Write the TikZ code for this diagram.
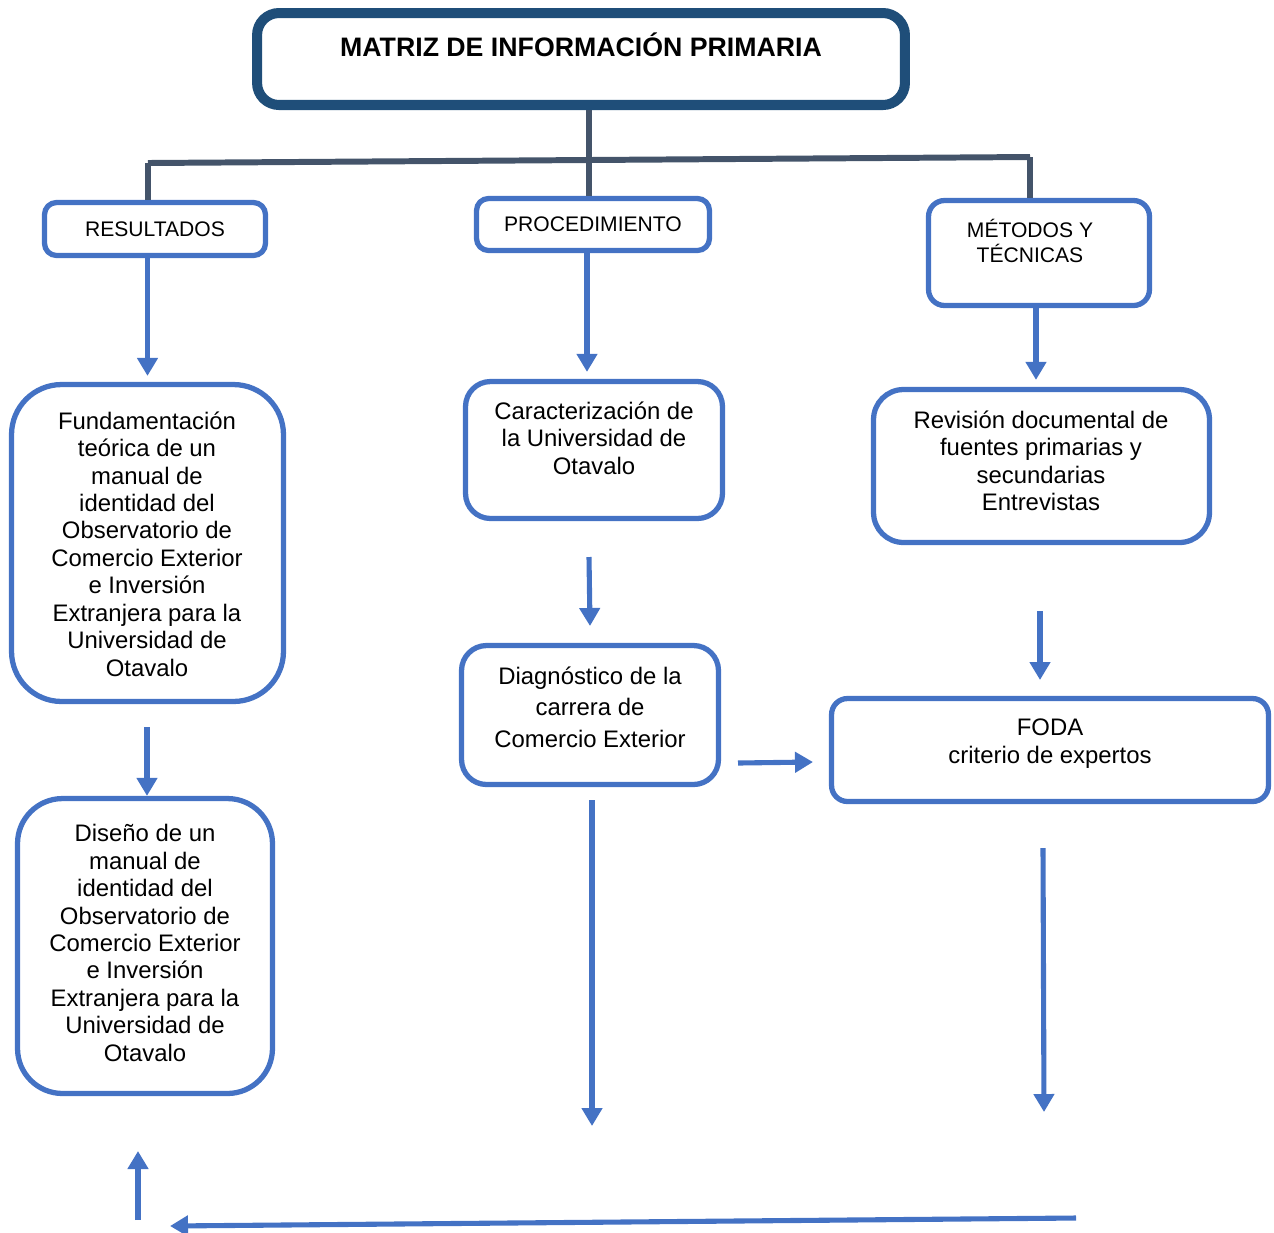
\documentclass[tikz,border=0pt]{standalone}
\usepackage{fontspec}
\setmainfont{Liberation Sans}
\usetikzlibrary{arrows.meta}
\definecolor{titleblue}{HTML}{1F4E79}
\definecolor{treegray}{HTML}{44546A}
\definecolor{boxblue}{HTML}{4472C4}

\begin{document}
\begin{tikzpicture}[x=0.02cm,y=-0.02cm,
    title_box/.style={draw=titleblue,line width=5.7pt,rounded corners=0.44cm,inner sep=0,minimum width=12.96cm,minimum height=1.84cm},
    blue_box/.style={draw=boxblue,line width=3pt,inner sep=0},
    body_text/.style={align=center,inner sep=0,font=\fontsize{13.6}{15.6}\selectfont},
    small_text/.style={align=center,inner sep=0,font=\fontsize{12}{14.2}\selectfont},
    tree/.style={draw=treegray,line width=3.4pt},
    arr/.style={draw=boxblue,line width=2.9pt,-{Triangle[width=0.4cm,length=0.36cm]}}]
    \useasboundingbox (0,0) rectangle (1274,1232);

    % title and tree
    \node[title_box] (matriz) at (581,59) {};
    \node[inner sep=0,font=\fontsize{15.2}{17}\selectfont\bfseries] (matriz_t) at (581,45) {MATRIZ DE INFORMACIÓN PRIMARIA};

    \node[blue_box,rounded corners=0.24cm,minimum width=4.42cm,minimum height=1.06cm] (resultados) at (155,229) {};
    \node[small_text] (resultados_t) at (155,229) {RESULTADOS};
    \node[blue_box,rounded corners=0.24cm,minimum width=4.66cm,minimum height=1.04cm] (procedimiento) at (593,224.5) {};
    \node[small_text] (procedimiento_t) at (593,224) {PROCEDIMIENTO};
    \node[blue_box,rounded corners=0.32cm,minimum width=4.42cm,minimum height=2.1cm] (metodos) at (1039,253) {};
    \node[small_text] (metodos_t) at (1030,241) {MÉTODOS Y\\TÉCNICAS};

    \coordinate (jl) at (148,163);
    \coordinate (jm) at (589,160);
    \coordinate (jr) at (1030,157);
    \draw[tree] (jl) -- (jr);
    \draw[tree] (matriz.south -| jm) -- (jm |- procedimiento.north);
    \draw[tree] (jl) -- (jl |- resultados.north);
    \draw[tree] (jr) -- (jr |- metodos.north);

    % left column
    \node[blue_box,rounded corners=1cm,minimum width=5.44cm,minimum height=6.34cm] (fundamentacion) at (147.5,543) {};
    \node[body_text] (fundamentacion_t) at (147,544) {Fundamentación\\teórica de un\\manual de\\identidad del\\Observatorio de\\Comercio Exterior\\e Inversión\\Extranjera para la\\Universidad de\\Otavalo};
    \node[blue_box,rounded corners=0.9cm,minimum width=5.1cm,minimum height=5.9cm] (diseno) at (145,946) {};
    \node[body_text] (diseno_t) at (145,943) {Diseño de un\\manual de\\identidad del\\Observatorio de\\Comercio Exterior\\e Inversión\\Extranjera para la\\Universidad de\\Otavalo};

    % middle column
    \node[blue_box,rounded corners=0.5cm,minimum width=5.14cm,minimum height=2.74cm] (caract) at (594,450) {};
    \node[body_text] (caract_t) at (594,438) {Caracterización de\\la Universidad de\\Otavalo};
    \node[blue_box,rounded corners=0.5cm,minimum width=5.14cm,minimum height=2.78cm] (diagnostico) at (590,715) {};
    \node[body_text,font=\fontsize{13.6}{17.9}\selectfont] (diagnostico_t) at (590,707) {Diagnóstico de la\\carrera de\\Comercio Exterior};

    % right column
    \node[blue_box,rounded corners=0.6cm,minimum width=6.72cm,minimum height=3.06cm] (revision) at (1041.5,466) {};
    \node[body_text] (revision_t) at (1041,461) {Revisión documental de\\fuentes primarias y\\secundarias\\Entrevistas};
    \node[blue_box,rounded corners=0.32cm,minimum width=8.74cm,minimum height=2.06cm] (foda) at (1050,750) {};
    \node[body_text,font=\fontsize{13.6}{15.9}\selectfont] (foda_t) at (1050,744) {FODA\\criterio de expertos};

    % arrows
    \draw[arr] (resultados.south -| fundamentacion.north) -- ([yshift=0.12cm]fundamentacion.north);
    \draw[arr] ([xshift=-0.12cm]procedimiento.south) -- ([xshift=-0.12cm,yshift=0.14cm]procedimiento.south |- caract.north);
    \draw[arr] ([xshift=-0.06cm]metodos.south) -- ([xshift=-0.06cm,yshift=0.14cm]metodos.south |- revision.north);

    \coordinate (c1a) at (589,557);  \coordinate (c1b) at (590,626);
    \coordinate (c2a) at (1040,611); \coordinate (c2b) at (1040,680);
    \coordinate (c3a) at (147,727);
    \coordinate (c4a) at (738,763);  \coordinate (c4b) at (813,762);
    \coordinate (c5a) at (592,800);  \coordinate (c5b) at (592,1126);
    \coordinate (c6a) at (1043,848); \coordinate (c6b) at (1044,1112);
    \coordinate (c7a) at (138,1220); \coordinate (c7b) at (138,1151);
    \coordinate (c8a) at (1076,1218); \coordinate (c8b) at (170,1226);
    \draw[arr] (c1a) -- (c1b);
    \draw[arr] (c2a) -- (c2b);
    \draw[arr] (c3a) -- (c3a |- diseno.north);
    \draw[arr] (c4a) -- (c4b);
    \draw[arr] (c5a) -- (c5b);
    \draw[arr] (c6a) -- (c6b);
    \draw[arr] (c7a) -- (c7b);
    \draw[arr] (c8a) -- (c8b);
\end{tikzpicture}
\end{document}
